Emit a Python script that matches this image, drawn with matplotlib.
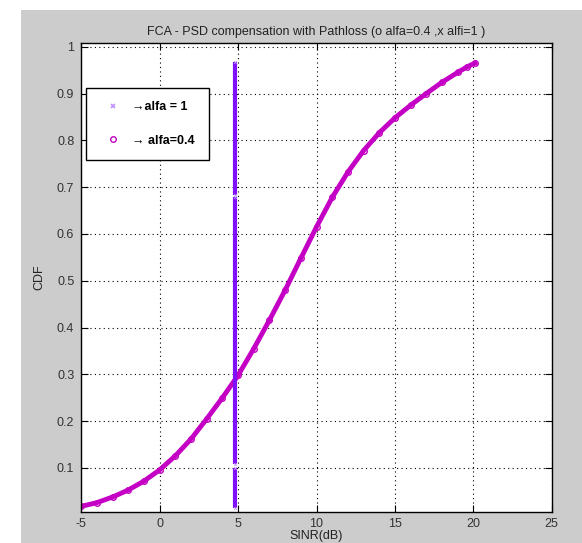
import matplotlib
matplotlib.use("Agg")
import matplotlib.pyplot as plt
from matplotlib.lines import Line2D
from matplotlib.patches import Rectangle

plt.rcParams['font.family'] = ['Liberation Sans', 'DejaVu Sans']
plt.rcParams['axes.unicode_minus'] = False

# CDF of SINR, alfa = 0.4
sinr_a04 = [-5, -4, -3, -2, -1, 0, 1, 2, 3, 4, 5, 6, 7, 8, 9, 10,
            11, 12, 13, 14, 15, 16, 17, 18, 19, 19.6, 20.1]
cdf_a04 = [0.018, 0.026, 0.038, 0.053, 0.072, 0.096, 0.126, 0.162, 0.205,
           0.25, 0.298, 0.355, 0.416, 0.48, 0.548, 0.615, 0.678, 0.732,
           0.778, 0.816, 0.848, 0.875, 0.9, 0.924, 0.945, 0.957, 0.965]

# CDF of SINR, alfa = 1 (nearly constant SINR -> vertical trace)
sinr_a1 = [4.82, 4.82, 4.83, 4.83, 4.82, 4.82]
cdf_a1 = [0.015, 0.099, 0.108, 0.678, 0.684, 0.968]

col_a04 = '#c400c4'
col_a1 = '#8010f8'

fig = plt.figure(figsize=(5.82, 5.43), dpi=100, facecolor='white')
# grey MATLAB figure background
fig.patches.append(Rectangle((21 / 582, 0), 1 - 21 / 582, 533 / 543,
                             transform=fig.transFigure, facecolor='#cccccc',
                             edgecolor='none', zorder=-10))

ax = fig.add_axes([81.3 / 582, 31.5 / 543, 470.4 / 582, 468.5 / 543])

# alfa = 1 trace, drawn in pieces
for i in range(0, len(sinr_a1), 2):
    ax.plot(sinr_a1[i:i + 2], cdf_a1[i:i + 2], color=col_a1, lw=3,
            solid_capstyle='butt', zorder=3)
ax.plot(sinr_a1, cdf_a1, 'x', color='#c090ff', ms=2, mew=0.6, zorder=4)

# alfa = 0.4 curve
ax.plot(sinr_a04, cdf_a04, '-', color=col_a04, lw=3.5, zorder=2)
ax.plot(sinr_a04, cdf_a04, 'o', color=col_a04, mfc='none', ms=4, mew=1, zorder=2)

ax.set_xlim(-5, 25)
ax.set_ylim(0.007, 1.008)
ax.set_xticks(range(-5, 26, 5))
ax.set_yticks([0.1, 0.2, 0.3, 0.4, 0.5, 0.6, 0.7, 0.8, 0.9, 1])
ax.set_yticklabels(['0.1', '0.2', '0.3', '0.4', '0.5', '0.6', '0.7', '0.8', '0.9', '1'])
ax.grid(True, color='black', ls=(0, (1, 3)), lw=0.8)
ax.tick_params(direction='in', length=5, top=True, right=True,
               labelsize=9, labelcolor='#333333', pad=5)
for s in ax.spines.values():
    s.set_linewidth(1)

ax.set_title('FCA - PSD compensation with Pathloss (o alfa=0.4 ,x alfi=1 )',
             fontsize=9, pad=6, color='#222222')
ax.set_xlabel('SINR(dB)', fontsize=9, labelpad=0, color='#222222')
ax.set_ylabel('CDF', fontsize=9, labelpad=8, color='#222222')

handles = [
    Line2D([], [], ls='none', marker='x', color='#c090ff', ms=3, mew=1.2),
    Line2D([], [], ls='none', marker='o', color=col_a04, mfc='none', ms=4, mew=1),
]
leg = ax.legend(handles, ['\u2192alfa = 1', '\u2192 alfa=0.4'],
                loc='upper left', bbox_to_anchor=(0.01, 0.905),
                borderaxespad=0, fancybox=False, framealpha=1,
                edgecolor='black', prop={'weight': 'bold', 'size': 9},
                handlelength=2.1, handletextpad=0.5, labelspacing=1.7,
                borderpad=1.1)
leg.get_frame().set_linewidth(1)

fig.savefig('out.png', dpi=100)
